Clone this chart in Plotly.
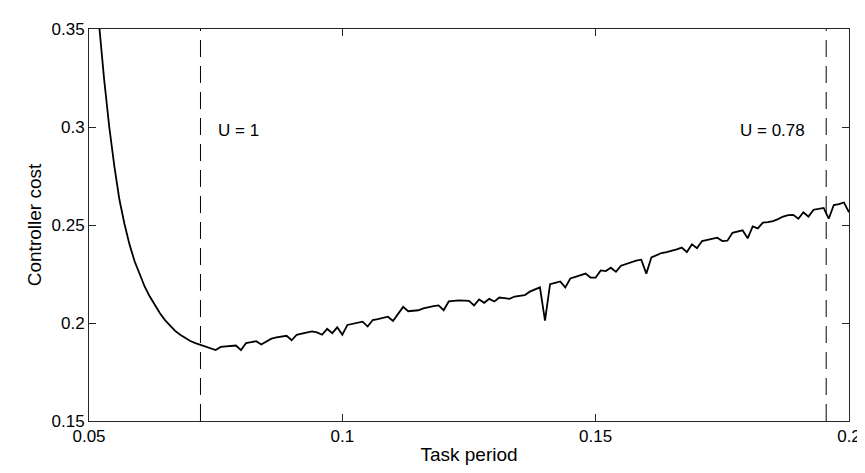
import plotly.graph_objects as go

# Task period samples (s)
task_period = [
    0.050, 0.051, 0.052, 0.053, 0.054, 0.055, 0.056, 0.057, 0.058, 0.059,
    0.060, 0.061, 0.062, 0.063, 0.064, 0.065, 0.066, 0.067, 0.068, 0.069,
    0.070, 0.071, 0.072, 0.073, 0.074, 0.075, 0.076, 0.077, 0.078, 0.079,
    0.080, 0.081, 0.082, 0.083, 0.084, 0.085, 0.086, 0.087, 0.088, 0.089,
    0.090, 0.091, 0.092, 0.093, 0.094, 0.095, 0.096, 0.097, 0.098, 0.099,
    0.100, 0.101, 0.102, 0.103, 0.104, 0.105, 0.106, 0.107, 0.108, 0.109,
    0.110, 0.111, 0.112, 0.113, 0.114, 0.115, 0.116, 0.117, 0.118, 0.119,
    0.120, 0.121, 0.122, 0.123, 0.124, 0.125, 0.126, 0.127, 0.128, 0.129,
    0.130, 0.131, 0.132, 0.133, 0.134, 0.135, 0.136, 0.137, 0.138, 0.139,
    0.140, 0.141, 0.142, 0.143, 0.144, 0.145, 0.146, 0.147, 0.148, 0.149,
    0.150, 0.151, 0.152, 0.153, 0.154, 0.155, 0.156, 0.157, 0.158, 0.159,
    0.160, 0.161, 0.162, 0.163, 0.164, 0.165, 0.166, 0.167, 0.168, 0.169,
    0.170, 0.171, 0.172, 0.173, 0.174, 0.175, 0.176, 0.177, 0.178, 0.179,
    0.180, 0.181, 0.182, 0.183, 0.184, 0.185, 0.186, 0.187, 0.188, 0.189,
    0.190, 0.191, 0.192, 0.193, 0.194, 0.195, 0.196, 0.197, 0.198, 0.199,
    0.200,
]

# Controller cost
controller_cost = [
    0.4200, 0.3850, 0.3520, 0.3240, 0.3000, 0.2800, 0.2630, 0.2505, 0.2400, 0.2315,
    0.2245, 0.2185, 0.2135, 0.2090, 0.2050, 0.2015, 0.1985, 0.1960, 0.1940, 0.1922,
    0.1908, 0.1897, 0.1888, 0.1877, 0.1870, 0.1862, 0.1878, 0.1880, 0.1883, 0.1885,
    0.1862, 0.1898, 0.1902, 0.1907, 0.1890, 0.1905, 0.1920, 0.1927, 0.1931, 0.1935,
    0.1912, 0.1940, 0.1946, 0.1952, 0.1957, 0.1952, 0.1940, 0.1970, 0.1948, 0.1978,
    0.1940, 0.1990, 0.1995, 0.2001, 0.2007, 0.1982, 0.2015, 0.2020, 0.2026, 0.2032,
    0.2010, 0.2046, 0.2082, 0.2060, 0.2063, 0.2065, 0.2075, 0.2082, 0.2086, 0.2090,
    0.2065, 0.2110, 0.2113, 0.2115, 0.2114, 0.2113, 0.2090, 0.2120, 0.2103, 0.2123,
    0.2110, 0.2130, 0.2127, 0.2123, 0.2135, 0.2138, 0.2142, 0.2160, 0.2170, 0.2182,
    0.2012, 0.2198, 0.2205, 0.2212, 0.2182, 0.2227, 0.2235, 0.2243, 0.2252, 0.2232,
    0.2232, 0.2268, 0.2265, 0.2282, 0.2261, 0.2292, 0.2302, 0.2312, 0.2318, 0.2323,
    0.2252, 0.2335, 0.2346, 0.2357, 0.2362, 0.2368, 0.2376, 0.2385, 0.2362, 0.2402,
    0.2382, 0.2418, 0.2424, 0.2430, 0.2435, 0.2418, 0.2420, 0.2460, 0.2466, 0.2473,
    0.2432, 0.2493, 0.2483, 0.2512, 0.2515, 0.2520, 0.2530, 0.2543, 0.2550, 0.2552,
    0.2532, 0.2565, 0.2543, 0.2578, 0.2582, 0.2587, 0.2532, 0.2602, 0.2607, 0.2615,
    0.2565,
]

# Utilization markers
marker_periods = [0.072, 0.1955]
marker_labels = ["U = 1", "U = 0.78"]
marker_label_x = [0.0750, 0.1918]
marker_label_y = 0.298

x_ticks = [0.05, 0.10, 0.15, 0.20]
x_tick_labels = ["0.05", "0.1", "0.15", "0.2"]
y_ticks = [0.15, 0.20, 0.25, 0.30, 0.35]
y_tick_labels = ["0.15", "0.2", "0.25", "0.3", "0.35"]
x_range = [0.05, 0.20]
y_range = [0.15, 0.35]

FONT = "Liberation Sans, Arial, Helvetica, sans-serif"
INK = "#000000"
TICK_SIZE = 17
TITLE_SIZE = 19

fig = go.Figure()

for p in marker_periods:
    fig.add_trace(go.Scatter(
        x=[p, p], y=y_range, mode="lines",
        line=dict(color=INK, width=1, dash="17px,9px"),
        hoverinfo="skip", showlegend=False,
    ))

fig.add_trace(go.Scatter(
    x=task_period, y=controller_cost, mode="lines",
    line=dict(color=INK, width=1.8), showlegend=False,
))

fig.add_annotation(x=marker_label_x[0], y=marker_label_y, text=marker_labels[0],
                   showarrow=False, xanchor="left", yanchor="middle",
                   font=dict(family=FONT, size=TICK_SIZE, color=INK))
fig.add_annotation(x=marker_label_x[1], y=marker_label_y, text=marker_labels[1],
                   showarrow=False, xanchor="right", yanchor="middle",
                   font=dict(family=FONT, size=TICK_SIZE, color=INK))

axis_common = dict(
    showline=True, linecolor="#262626", linewidth=1, mirror="ticks",
    ticks="inside", ticklen=7, tickcolor="#262626", tickwidth=1,
    showgrid=False, zeroline=False,
    tickfont=dict(family=FONT, size=TICK_SIZE, color=INK),
)

fig.update_layout(
    width=865, height=473,
    margin=dict(l=81, r=16, t=13, b=60),
    paper_bgcolor="white", plot_bgcolor="white",
    font=dict(family=FONT, size=TICK_SIZE, color=INK),
    xaxis=dict(range=x_range, tickvals=x_ticks, ticktext=x_tick_labels,
               title=dict(text="Task period", standoff=2,
                          font=dict(family=FONT, size=TITLE_SIZE, color=INK)),
               **axis_common),
    yaxis=dict(range=y_range, tickvals=y_ticks, ticktext=y_tick_labels,
               title=dict(text="Controller cost", standoff=4,
                          font=dict(family=FONT, size=TITLE_SIZE, color=INK)),
               **axis_common),
)

fig.write_html("out.html")
